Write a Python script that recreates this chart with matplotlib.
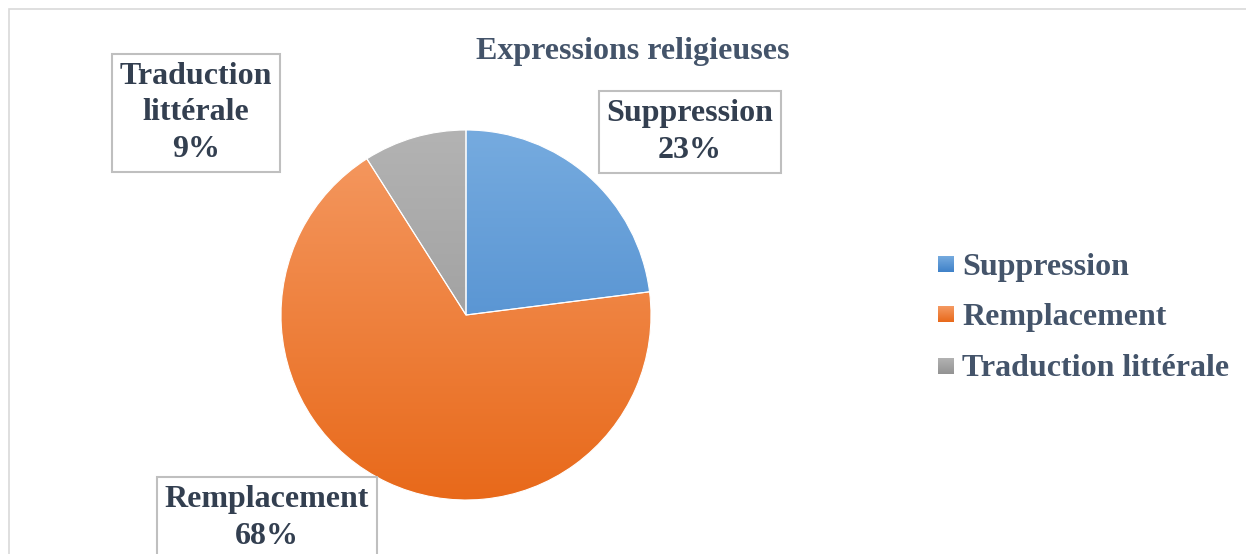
import numpy as np
import matplotlib.pyplot as plt
from matplotlib.colors import LinearSegmentedColormap
from matplotlib.patches import Rectangle

# ----------------------------
# DATA
# ----------------------------
title = "Expressions religieuses"
categories = ["Suppression", "Remplacement", "Traduction littérale"]
values = [23, 68, 9]
box_labels = ["Suppression\n23%", "Remplacement\n68%", "Traduction\nlittérale\n9%"]

# gradient top -> bottom for each slice
grad_top = ["#76ABDF", "#F59A63", "#B3B3B3"]
grad_bot = ["#3F81C8", "#E8691A", "#929292"]

W, H = 1246, 554
TXT = "#333F50"
TXT2 = "#44546A"
FONT = "Liberation Serif"
FS = 23

fig = plt.figure(figsize=(W / 100, H / 100), dpi=100)
ax = fig.add_axes([0, 0, 1, 1])

# pie in pixel coords (y up)
cx, cy, r = 466, H - 315, 185
wedges, _ = ax.pie(values, startangle=90, counterclock=False,
                   center=(cx, cy), radius=r,
                   colors=grad_bot,
                   wedgeprops=dict(edgecolor="white", linewidth=0.8))
ax.set_xlim(0, W)
ax.set_ylim(0, H)
ax.set_aspect("equal")
ax.axis("off")

grad = np.linspace(0, 1, 256).reshape(-1, 1)
for w, c1, c2 in zip(wedges, grad_top, grad_bot):
    cmap = LinearSegmentedColormap.from_list("g", [c1, c2])
    im = ax.imshow(grad, cmap=cmap, aspect="auto",
                   extent=(cx - r, cx + r, cy - r, cy + r),
                   origin="upper", zorder=2)
    im.set_clip_path(w)
for w in wedges:
    w.set_facecolor("none")
    w.set_zorder(3)

# chart border
ax.add_patch(Rectangle((9, -5), W, H - 9 + 5, fill=False,
                       edgecolor="#D9D9D9", linewidth=1.2, zorder=1))

# title
ax.text(633, H - 52, title, ha="center", va="center", fontsize=FS,
        fontweight="bold", color=TXT2, family=FONT)

# data label boxes
box_pos = [(690, H - 132), (267, H - 518), (196, H - 113)]
for (x, y), lab in zip(box_pos, box_labels):
    ax.text(x, y, lab, ha="center", va="center", fontsize=FS,
            fontweight="bold", color=TXT, family=FONT, linespacing=1.35,
            zorder=5,
            bbox=dict(boxstyle="square,pad=0.25", facecolor="white",
                      edgecolor="#BFBFBF", linewidth=1.5))

# legend
leg_y = [264, 314, 366]
for name, c1, c2, y in zip(categories, grad_top, grad_bot, leg_y):
    cmap = LinearSegmentedColormap.from_list("g", [c1, c2])
    ax.imshow(grad, cmap=cmap, aspect="auto",
              extent=(938, 954, H - y - 8, H - y + 8), origin="upper", zorder=4)
    ax.text(962, H - y - 3, name, ha="left", va="center", fontsize=FS,
            fontweight="bold", color=TXT2, family=FONT)

ax.set_xlim(0, W)
ax.set_ylim(0, H)

plt.savefig("out.png", dpi=100)
